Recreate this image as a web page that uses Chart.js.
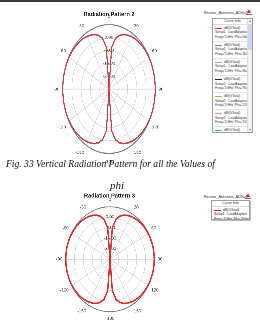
<!DOCTYPE html>
<html>
<head>
<meta charset="utf-8">
<script src="https://cdn.jsdelivr.net/npm/chart.js@4.4.1/dist/chart.umd.min.js"></script>
<style>
  html, body { margin: 0; padding: 0; background: #fff; }
  body { width: 260px; height: 324px; position: relative; overflow: hidden; font-family: "Liberation Sans", Arial, sans-serif; }
  .topline { position: absolute; left: 0; top: 0; width: 260px; height: 2px; background: #3c3c3c; }
  .wrap { position: absolute; transform-origin: 0 0; }
  .caption { position: absolute; font-family: "Liberation Serif", "Times New Roman", serif; font-style: italic; color: #111; white-space: nowrap; }
  .lgTitle { position: absolute; font-size: 4px; color: #333; white-space: nowrap; }
  .icon { position: absolute; width: 0; height: 0; border-left: 2px solid transparent; border-right: 2px solid transparent; border-bottom: 4px solid #d03030; }
  .iconbar { position: absolute; width: 6px; height: 1px; background: #777; }
  .lgBox { position: absolute; border: 1px solid #a0a0a0; background: #fff; overflow: hidden; color: #333; }
  .lgHead { font-size: 3.6px; line-height: 4.5px; text-align: center; border-bottom: 1px solid #ddd; }
  .entry { font-size: 3.4px; line-height: 4.3px; padding: 1.5px 0 1.7px 2px; border-bottom: 1px solid #e4e4e4; white-space: nowrap; }
  .swatch { display: inline-block; width: 7px; height: 1px; vertical-align: middle; margin-right: 2px; }
  .scroll { position: absolute; right: 0; top: 0; bottom: 0; width: 4px; background: #f2f2f2; border-left: 1px solid #ddd; }
  .thumb { position: absolute; left: 0; right: 0; top: 5px; height: 26px; background: #c9d5ee; }
  .arrow { position: absolute; left: 0; right: 0; height: 4px; font-size: 3px; line-height: 4px; text-align: center; color: #5070b0; }
</style>
</head>
<body>
<div class="topline"></div>

<div class="wrap" id="wrapTop"><canvas id="chartTop"></canvas></div>
<div class="wrap" id="wrapBottom"><canvas id="chartBottom"></canvas></div>

<div class="lgTitle" style="left:204px; top:10px;">Bicone_Antenna_ADKv1</div>
<div class="icon" style="left:247px; top:9px;"></div>
<div class="iconbar" style="left:246px; top:14px;"></div>
<div class="lgBox" id="legendTop" style="left:212px; top:18px; width:39px; height:113px;"></div>

<div class="caption" style="left:6px; top:158px; font-size:9.6px;">Fig. 33 Vertical Radiation Pattern for all the Values of</div>
<div class="caption" style="left:110px; top:179px; font-size:11px;">phi</div>

<div class="lgTitle" style="left:204px; top:194px;">Bicone_Antenna_ADKv1</div>
<div class="icon" style="left:246px; top:193px;"></div>
<div class="iconbar" style="left:245px; top:198px;"></div>
<div class="lgBox" id="legendBottom" style="left:211px; top:200px; width:37px; height:18px; box-shadow: 1px 1px 0 #bbb;"></div>

<script>
// elevation cut, theta in 5 degree steps (HFSS style labels)
const angleLabels = [];
for (let a = 0; a < 360; a += 5) angleLabels.push(a < 180 ? String(a) : String(a - 360));

// dB(GTotal), top plot (all phi cuts overlap)
const gainTop = [
  -32, -6, 0, 2.5, 4, 5, 5.8, 6.4, 6.8, 7.1, 7.3, 7.5,
  7.6, 7.7, 7.7, 7.8, 7.8, 7.8, 7.8, 7.8, 7.8, 7.8, 7.7, 7.7,
  7.6, 7.5, 7.3, 7.1, 6.8, 6.4, 5.8, 5, 4, 2.5, 0, -6,
  -32, -6, 0, 2.5, 4, 5, 5.8, 6.4, 6.8, 7.1, 7.3, 7.5,
  7.6, 7.7, 7.7, 7.8, 7.8, 7.8, 7.8, 7.8, 7.8, 7.8, 7.7, 7.7,
  7.6, 7.5, 7.3, 7.1, 6.8, 6.4, 5.8, 5, 4, 2.5, 0, -6
];
// dB(GTotal), bottom plot
const gainBottom = [
  -32, -8, -1, 2, 3.8, 4.9, 5.7, 6.3, 6.8, 7.1, 7.3, 7.5,
  7.6, 7.7, 7.7, 7.8, 7.8, 7.8, 7.8, 7.8, 7.8, 7.8, 7.7, 7.7,
  7.6, 7.5, 7.3, 7.1, 6.8, 6.3, 5.7, 4.9, 3.8, 2, -1, -8,
  -32, -8, -1, 2, 3.8, 4.9, 5.7, 6.3, 6.8, 7.1, 7.3, 7.5,
  7.6, 7.7, 7.7, 7.8, 7.8, 7.8, 7.8, 7.8, 7.8, 7.8, 7.7, 7.7,
  7.6, 7.5, 7.3, 7.1, 6.8, 6.3, 5.7, 4.9, 3.8, 2, -1, -8
];

const phiTop = ['0deg', '30deg', '60deg', '90deg', '120deg', '150deg', '180deg'];
const colorsTop = ['#e4303c', '#8a8a8a', '#9a9ae0', '#22223a', '#b4b428', '#f08c9c', '#34c4a4'];
const phiBottom = ['90deg'];
const colorsBottom = ['#e02c2c'];

const rMin = -32, rMax = 8, rStep = 8;

// canvas is stretched vertically with css, so glyphs are squeezed back
function unstretchText(k) {
  return {
    id: 'unstretchText',
    beforeInit(chart) {
      const ctx = chart.ctx;
      const fill = ctx.fillText.bind(ctx);
      ctx.fillText = function (t, x, y, w) {
        ctx.save();
        ctx.translate(x, y);
        ctx.scale(1, 1 / k);
        if (w === undefined) fill(t, 0, 0); else fill(t, 0, 0, w);
        ctx.restore();
      };
    }
  };
}

function makeChart(id, wrapId, pos, title, datasets) {
  const wrap = document.getElementById(wrapId);
  wrap.style.left = pos.left + 'px';
  wrap.style.top = pos.top + 'px';
  wrap.style.transform = 'scaleY(' + pos.k + ')';
  const canvas = document.getElementById(id);
  canvas.width = pos.w;
  canvas.height = pos.h;
  return new Chart(canvas, {
    type: 'radar',
    data: { labels: angleLabels, datasets: datasets },
    options: {
      responsive: false,
      animation: false,
      devicePixelRatio: 3,
      layout: { padding: 0 },
      elements: { point: { radius: 0 }, line: { tension: 0, fill: false } },
      plugins: {
        legend: { display: false },
        tooltip: { enabled: false },
        title: {
          display: true,
          text: title,
          color: '#222',
          font: { family: 'Liberation Sans', size: 5.6 },
          padding: { top: 0, bottom: pos.titleGap }
        }
      },
      scales: {
        r: {
          min: rMin,
          max: rMax,
          startAngle: 0,
          ticks: {
            stepSize: rStep,
            showLabelBackdrop: false,
            backdropPadding: 0,
            color: '#444',
            font: { family: 'Liberation Sans', size: 4.4 },
            callback: v => (v <= 0 && v > rMin) ? v.toFixed(2) : ''
          },
          grid: {
            circular: true,
            lineWidth: ctx => ctx.tick.value === rMax ? 0.8 : 0.5,
            color: ctx => ctx.tick.value === rMax ? '#7a7a7a' : '#d2d2d2'
          },
          angleLines: {
            lineWidth: 0.5,
            color: ctx => ctx.index % 6 === 0 ? '#cfcfcf' : 'rgba(0,0,0,0)'
          },
          pointLabels: {
            padding: 1,
            color: '#444',
            font: { family: 'Liberation Sans', size: 4.4 },
            callback: (label, i) => i % 6 === 0 ? label : ''
          }
        }
      }
    },
    plugins: [unstretchText(pos.k)]
  });
}

const topSets = phiTop.map((p, i) => ({
  label: 'dB(GTotal) Phi=' + p,
  data: gainTop,
  borderColor: colorsTop[i],
  borderWidth: 0.9
}));
const bottomSets = phiBottom.map((p, i) => ({
  label: 'dB(GTotal) Phi=' + p,
  data: gainBottom,
  borderColor: colorsBottom[i],
  borderWidth: 1.4
}));

const posTop = { left: 52.5, top: 10.4, w: 112, h: 113, k: 1.387, titleGap: -5.2 };
const posBottom = { left: 54.5, top: 192.2, w: 109, h: 112, k: 1.18, titleGap: -4 };

makeChart('chartTop', 'wrapTop', posTop, 'Radiation Pattern 2', topSets);
makeChart('chartBottom', 'wrapBottom', posBottom, 'Radiation Pattern 3', bottomSets);

function buildLegend(boxId, phis, colors, scroll) {
  const box = document.getElementById(boxId);
  let html = '<div class="lgHead">Curve Info</div>';
  phis.forEach((p, i) => {
    html += '<div class="entry"><span class="swatch" style="background:' + colors[i] + '"></span>dB(GTotal)<br>' +
      'Setup1 : LastAdaptive<br>Freq=\'1GHz\' Phi=\'' + p + '\'</div>';
  });
  if (scroll) {
    html += '<div class="scroll"><div class="arrow" style="top:0">&#9650;</div><div class="thumb"></div>' +
      '<div class="arrow" style="bottom:0">&#9660;</div></div>';
  }
  box.innerHTML = html;
}
buildLegend('legendTop', phiTop, colorsTop, true);
buildLegend('legendBottom', phiBottom, colorsBottom, false);
</script>
</body>
</html>
